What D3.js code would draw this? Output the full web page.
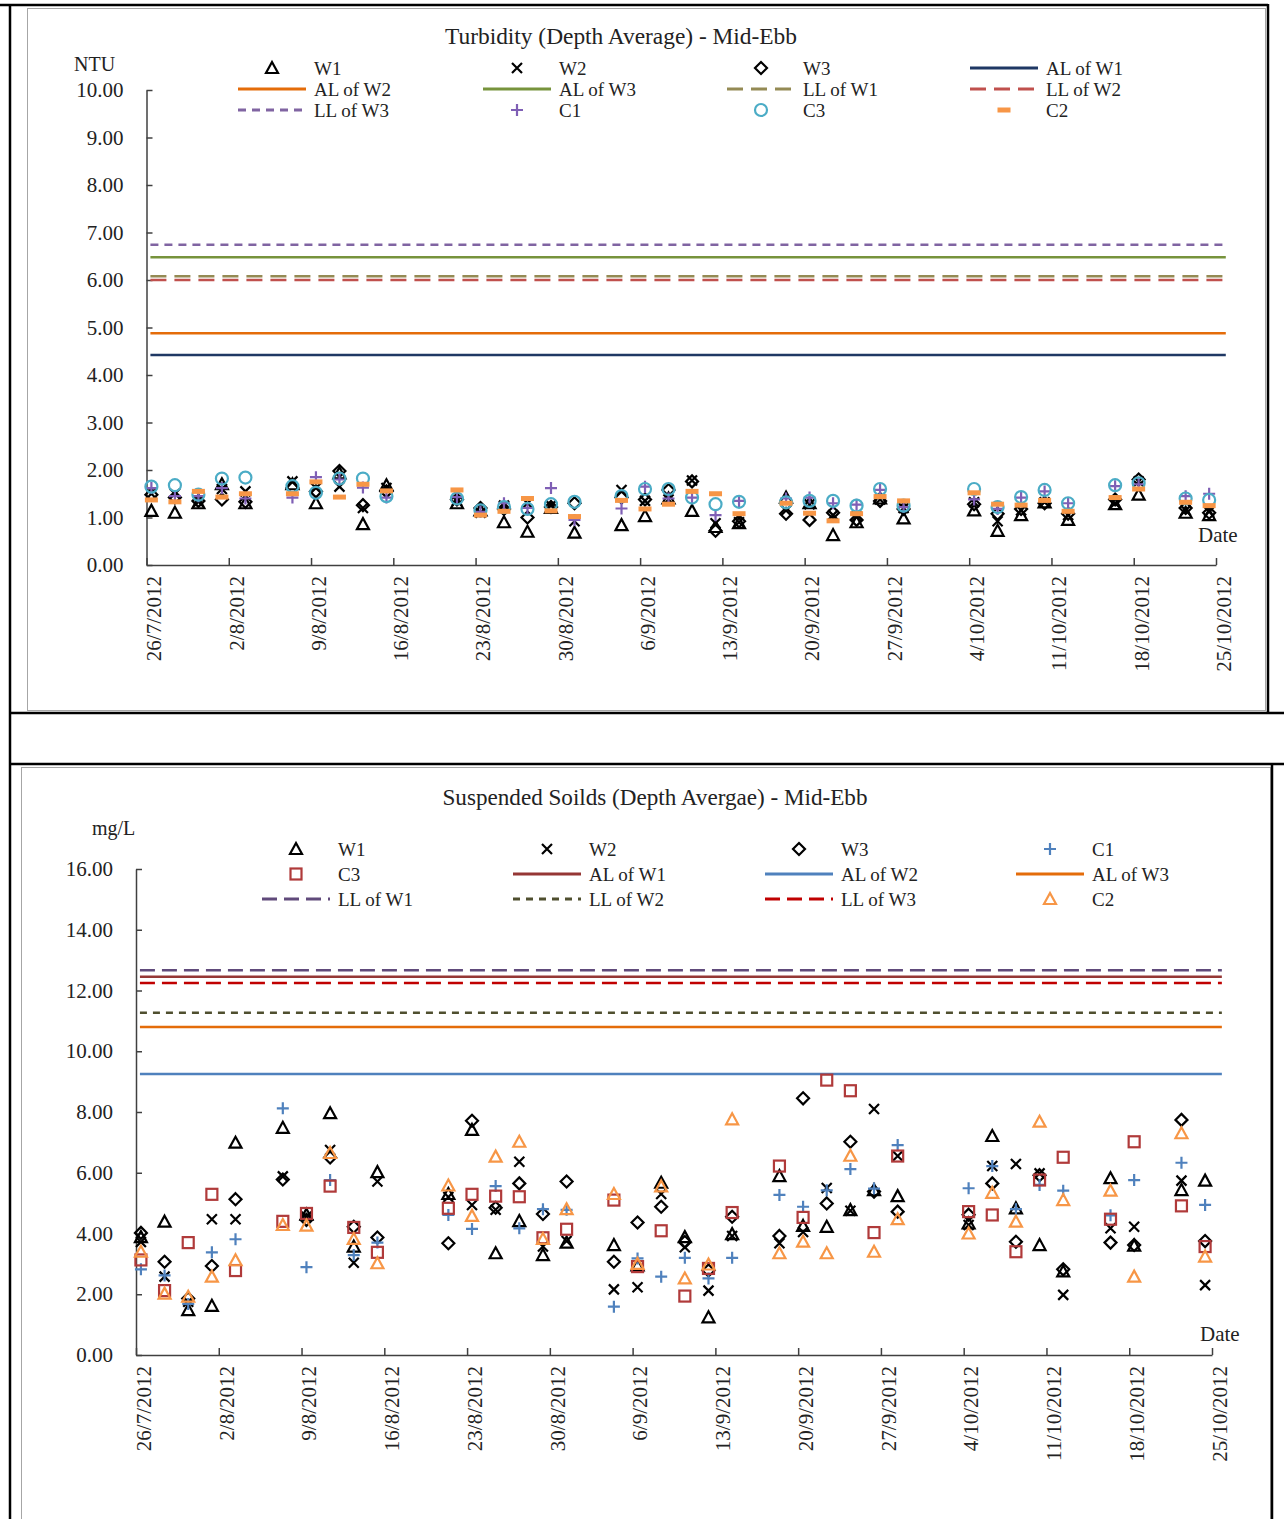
<!DOCTYPE html>
<html><head><meta charset="utf-8">
<script src="https://cdn.jsdelivr.net/npm/d3@7"></script>
<style>
html,body{margin:0;padding:0;background:#fff;}
svg{display:block;}
text{font-family:"Liberation Serif","Times New Roman",serif;fill:#222;}
</style></head>
<body>
<svg id="c" width="1284" height="1519"></svg>
<script>
// ---------------- DATA ----------------
const sampleDates = ["2012-07-26","2012-07-28","2012-07-30","2012-08-01","2012-08-03",
"2012-08-07","2012-08-09","2012-08-11","2012-08-13","2012-08-15",
"2012-08-21","2012-08-23","2012-08-25","2012-08-27","2012-08-29","2012-08-31",
"2012-09-04","2012-09-06","2012-09-08","2012-09-10","2012-09-12","2012-09-14",
"2012-09-18","2012-09-20","2012-09-22","2012-09-24","2012-09-26","2012-09-28",
"2012-10-04","2012-10-06","2012-10-08","2012-10-10","2012-10-12",
"2012-10-16","2012-10-18","2012-10-22","2012-10-24"];
const tickDates = ["2012-07-26","2012-08-02","2012-08-09","2012-08-16","2012-08-23","2012-08-30",
"2012-09-06","2012-09-13","2012-09-20","2012-09-27","2012-10-04","2012-10-11","2012-10-18","2012-10-25"];

// Turbidity (NTU)
const turbW1 = [1.14,1.10,1.30,1.70,1.30, 1.70,1.30,1.93,0.86,1.68, 1.30,1.15,0.90,0.70,1.20,0.68,
 0.84,1.03,1.40,1.14,0.80,0.88, 1.42,1.30,0.63,0.90,1.40,0.98, 1.15,0.72,1.05,1.32,0.95, 1.28,1.48,1.10,1.05];
const turbW2 = [1.50,1.50,1.33,1.60,1.55, 1.76,1.62,1.65,1.20,1.62, 1.35,1.10,1.25,1.30,1.25,0.92,
 1.58,1.35,1.38,1.78,0.88,0.90, 1.15,1.28,1.05,1.02,1.38,1.20, 1.32,0.92,1.15,1.32,1.05, 1.30,1.76,1.15,1.12];
const turbW3 = [1.48,1.42,1.35,1.38,1.33, 1.62,1.55,1.98,1.26,1.55, 1.38,1.20,1.18,1.00,1.22,1.30,
 1.42,1.38,1.58,1.76,0.72,0.92, 1.08,0.95,1.10,0.95,1.35,1.18, 1.28,1.08,1.18,1.30,1.08, 1.38,1.80,1.20,1.10];
const turbC1 = [1.62,1.45,1.45,1.62,1.40, 1.42,1.85,1.80,1.63,1.42, 1.43,1.12,1.30,1.20,1.62,0.95,
 1.19,1.65,1.40,1.42,1.05,1.35, 1.40,1.42,1.30,1.27,1.58,1.22, 1.38,1.18,1.42,1.55,1.30, 1.66,1.70,1.45,1.50];
const turbC3 = [1.65,1.68,1.48,1.82,1.84, 1.66,1.52,1.82,1.82,1.45, 1.40,1.15,1.22,1.18,1.28,1.33,
 1.45,1.60,1.60,1.42,1.28,1.33, 1.32,1.35,1.35,1.25,1.60,1.25, 1.60,1.22,1.43,1.58,1.30, 1.68,1.72,1.40,1.37];
const turbC2 = [1.37,1.33,1.55,1.43,1.50, 1.50,1.75,1.43,1.70,1.56, 1.58,1.05,1.13,1.40,1.14,1.02,
 1.36,1.18,1.28,1.55,1.50,1.08, 1.30,1.09,0.93,1.08,1.44,1.35, 1.52,1.28,1.26,1.36,1.13, 1.42,1.60,1.32,1.25];
const turbLimits = [
  {name:"AL of W1", value:4.42, color:"#1f3864", dash:null},
  {name:"AL of W2", value:4.88, color:"#e46c0a", dash:null},
  {name:"AL of W3", value:6.48, color:"#77933c", dash:null},
  {name:"LL of W1", value:6.08, color:"#948a54", dash:"16,8"},
  {name:"LL of W2", value:6.00, color:"#c0504d", dash:"16,8"},
  {name:"LL of W3", value:6.74, color:"#8064a2", dash:"8,6"}
];
const turbYTicks = [0,1,2,3,4,5,6,7,8,9,10];

// Suspended Solids (mg/L)
const ssW1 = [3.88,4.39,1.48,1.62,6.99, 7.48,4.62,7.96,3.57,6.02, 5.30,7.41,3.35,4.41,3.29,3.70,
 3.62,2.95,5.67,3.88,1.24,3.98, 5.89,4.25,4.22,4.77,5.43,5.23, 4.33,7.21,4.83,3.62,2.75, 5.82,3.60,5.43,5.74];
const ssW2 = [3.72,2.58,1.75,4.47,4.47, 5.88,4.55,6.75,3.04,5.71, 5.20,4.94,4.78,6.36,3.57,3.75,
 2.16,2.23,5.30,3.55,2.12,3.92, 3.68,4.05,5.50,4.75,8.10,6.55, 4.28,6.22,6.29,5.98,1.98, 4.17,4.22,5.74,2.30];
const ssW3 = [4.02,3.07,1.86,2.93,5.13, 5.78,4.45,6.50,4.22,3.87, 3.68,7.71,4.85,5.65,4.64,5.71,
 3.07,4.36,4.88,3.72,2.78,4.55, 3.92,8.45,4.99,7.02,5.38,4.72, 4.62,5.65,3.73,5.92,2.82, 3.70,3.62,7.74,3.75];
const ssC1 = [2.82,2.62,1.68,3.38,3.81, 8.12,2.89,5.76,3.29,3.70, 4.61,4.15,5.56,4.17,4.80,4.78,
 1.59,3.18,2.58,3.20,2.52,3.20, 5.27,4.88,5.42,6.12,5.48,6.91, 5.49,6.22,4.80,5.60,5.41, 4.60,5.76,6.33,4.94];
const ssC3 = [3.13,2.12,3.70,5.29,2.78, 4.40,4.66,5.56,4.20,3.38, 4.83,5.29,5.23,5.21,3.86,4.14,
 5.10,2.91,4.09,1.94,2.85,4.69, 6.22,4.53,9.05,8.70,4.03,6.55, 4.72,4.61,3.40,5.76,6.51, 4.47,7.02,4.91,3.57];
const ssC2 = [3.40,2.02,1.92,2.58,3.12, 4.28,4.26,6.65,3.82,3.02, 5.58,4.58,6.53,7.02,3.82,4.80,
 5.30,3.00,5.55,2.52,2.98,7.76, 3.35,3.73,3.35,6.56,3.40,4.47, 4.00,5.34,4.39,7.68,5.10, 5.41,2.58,7.30,3.24];
const ssLimits = [
  {name:"AL of W1", value:12.45, color:"#953735", dash:null},
  {name:"AL of W2", value:9.25, color:"#4f81bd", dash:null},
  {name:"AL of W3", value:10.80, color:"#e46c0a", dash:null},
  {name:"LL of W1", value:12.67, color:"#604a7b", dash:"15,7"},
  {name:"LL of W2", value:11.27, color:"#4f4f2f", dash:"7,6"},
  {name:"LL of W3", value:12.25, color:"#c00000", dash:"15,7"}
];
const ssYTicks = [0,2,4,6,8,10,12,14,16];

const limitStart = "2012-07-26T08:00", limitEnd = "2012-10-25T20:00";

// ---------------- DRAW ----------------
const svg = d3.select("#c");
const parse = s => new Date(s.length>10 ? s : s+"T00:00");
const sampleT = sampleDates.map(s => parse(s+"T10:00"));

// frame
const frame = svg.append("g");
frame.append("rect").attr("x",27.5).attr("y",8.5).attr("width",1238).attr("height",702).attr("fill","none").attr("stroke","#a6a6a6").attr("stroke-width",1);
frame.append("rect").attr("x",21.5).attr("y",767.5).attr("width",1249).attr("height",760).attr("fill","none").attr("stroke","#a6a6a6").attr("stroke-width",1);
const thick = [[0,5,1268,5],[10,4,10,1519],[1268,4,1268,713],[10,713,1284,713],[10,764,1284,764],[1272,764,1272,1519]];
thick.forEach(l=>frame.append("line").attr("x1",l[0]).attr("y1",l[1]).attr("x2",l[2]).attr("y2",l[3]).attr("stroke","#000").attr("stroke-width",2.5));

// marker painters
function mk(g, type, x, y, color){
  const sw = 2.2;
  if(type==="tri"){
    g.append("path").attr("d",`M${x},${y-6}L${x+6},${y+5}L${x-6},${y+5}Z`).attr("fill","none").attr("stroke",color).attr("stroke-width",sw).attr("stroke-linejoin","miter");
  } else if(type==="x"){
    g.append("path").attr("d",`M${x-5},${y-5}L${x+5},${y+5}M${x-5},${y+5}L${x+5},${y-5}`).attr("stroke",color).attr("stroke-width",sw);
  } else if(type==="dia"){
    g.append("path").attr("d",`M${x},${y-6}L${x+6},${y}L${x},${y+6}L${x-6},${y}Z`).attr("fill","none").attr("stroke",color).attr("stroke-width",sw);
  } else if(type==="plus"){
    g.append("path").attr("d",`M${x-6},${y}L${x+6},${y}M${x},${y-6}L${x},${y+6}`).attr("stroke",color).attr("stroke-width",sw);
  } else if(type==="circ"){
    g.append("circle").attr("cx",x).attr("cy",y).attr("r",6).attr("fill","none").attr("stroke",color).attr("stroke-width",sw);
  } else if(type==="dash"){
    g.append("rect").attr("x",x-6.5).attr("y",y-2.5).attr("width",13).attr("height",5).attr("fill",color);
  } else if(type==="sq"){
    g.append("rect").attr("x",x-5.5).attr("y",y-5.5).attr("width",11).attr("height",11).attr("fill","none").attr("stroke",color).attr("stroke-width",sw);
  }
}

function chart(cfg){
  const g = svg.append("g");
  const x = d3.scaleTime().domain([parse(tickDates[0]), parse(tickDates[tickDates.length-1])]).range([cfg.x0, cfg.x1]);
  const y = d3.scaleLinear().domain(cfg.ydom).range([cfg.yb, cfg.yt]);

  // y axis
  const ya = g.append("g").attr("transform",`translate(${cfg.x0},0)`)
    .call(d3.axisLeft(y).tickValues(cfg.yticks).tickFormat(d3.format(".2f")).tickSizeInner(-6).tickSizeOuter(0).tickPadding(cfg.ypad));
  ya.selectAll("path,line").attr("stroke","#404040").attr("stroke-width",1.5);
  ya.selectAll("text").attr("font-size",21).attr("font-family","Liberation Serif").attr("fill","#222");
  // x axis
  const xa = g.append("g").attr("transform",`translate(0,${cfg.yb})`)
    .call(d3.axisBottom(x).tickValues(tickDates.map(parse)).tickFormat(d3.timeFormat("%-d/%-m/%Y")).tickSizeInner(-7).tickSizeOuter(0));
  xa.selectAll("path,line").attr("stroke","#404040").attr("stroke-width",1.5);
  xa.selectAll("text").attr("font-size",21).attr("font-family","Liberation Serif").attr("fill","#222")
    .attr("transform","rotate(-90)").attr("text-anchor","end").attr("x",-11).attr("y",0).attr("dy","0.68em");

  // limit lines
  cfg.limits.forEach(l=>{
    g.append("line").attr("x1",x(parse(limitStart))).attr("x2",x(parse(limitEnd)))
      .attr("y1",y(l.value)).attr("y2",y(l.value)).attr("stroke",l.color).attr("stroke-width",2.5)
      .attr("stroke-dasharray",l.dash);
  });
  // series
  cfg.series.forEach(s=>{
    const sg = g.append("g");
    s.data.forEach((v,i)=> mk(sg, s.type, x(sampleT[i]), y(v), s.color));
  });

  // titles
  g.append("text").attr("x",cfg.titleX).attr("y",cfg.titleY).attr("text-anchor","middle").attr("font-size",24)
    .attr("textLength",cfg.titleW).attr("lengthAdjust","spacingAndGlyphs").text(cfg.title);
  g.append("text").attr("x",cfg.unitX).attr("y",cfg.unitY).attr("font-size",20).text(cfg.unit);
  g.append("text").attr("x",cfg.dateX).attr("y",cfg.dateY).attr("font-size",21).text("Date");

  // legend
  cfg.legend.forEach((it,i)=>{
    const col = i % 4, row = Math.floor(i/4);
    const lx = cfg.legCols[col], ly = cfg.legY0 + row*cfg.legDy;
    if(it.line){
      g.append("line").attr("x1",lx).attr("x2",lx+68).attr("y1",ly).attr("y2",ly)
        .attr("stroke",it.color).attr("stroke-width",3).attr("stroke-dasharray",it.dash);
    } else {
      mk(g, it.type, lx+34, ly, it.color);
    }
    g.append("text").attr("x",lx+76).attr("y",ly).attr("dy","0.35em").attr("font-size",19).text(it.name);
  });
}

const lim = (arr,n)=>arr.find(d=>d.name===n);
chart({
  x0:146.5, x1:1216, yb:565, yt:90, ydom:[0,10], yticks:turbYTicks, ypad:23,
  limits:turbLimits,
  series:[
    {data:turbW1,type:"tri",color:"#000"},
    {data:turbW2,type:"x",color:"#000"},
    {data:turbW3,type:"dia",color:"#000"},
    {data:turbC1,type:"plus",color:"#7f5fb5"},
    {data:turbC3,type:"circ",color:"#4bacc6"},
    {data:turbC2,type:"dash",color:"#f79646"}
  ],
  title:"Turbidity (Depth Average) - Mid-Ebb", titleX:621, titleY:44, titleW:352,
  unit:"NTU", unitX:74, unitY:71, dateX:1198, dateY:542,
  legCols:[238,483,727,970], legY0:68, legDy:21,
  legend:[
    {name:"W1",type:"tri",color:"#000"},{name:"W2",type:"x",color:"#000"},{name:"W3",type:"dia",color:"#000"},
    Object.assign({line:true},lim(turbLimits,"AL of W1")),
    Object.assign({line:true},lim(turbLimits,"AL of W2")),Object.assign({line:true},lim(turbLimits,"AL of W3")),
    Object.assign({line:true},lim(turbLimits,"LL of W1")),Object.assign({line:true},lim(turbLimits,"LL of W2")),
    Object.assign({line:true},lim(turbLimits,"LL of W3")),
    {name:"C1",type:"plus",color:"#7f5fb5"},{name:"C3",type:"circ",color:"#4bacc6"},{name:"C2",type:"dash",color:"#f79646"}
  ]
});
chart({
  x0:136, x1:1212, yb:1355, yt:869, ydom:[0,16], yticks:ssYTicks, ypad:23,
  limits:ssLimits,
  series:[
    {data:ssW1,type:"tri",color:"#000"},
    {data:ssW2,type:"x",color:"#000"},
    {data:ssW3,type:"dia",color:"#000"},
    {data:ssC1,type:"plus",color:"#4f81bd"},
    {data:ssC3,type:"sq",color:"#b03a3a"},
    {data:ssC2,type:"tri",color:"#f79646"}
  ],
  title:"Suspended Soilds (Depth Avergae) - Mid-Ebb", titleX:655, titleY:805, titleW:425,
  unit:"mg/L", unitX:92, unitY:835, dateX:1200, dateY:1341,
  legCols:[262,513,765,1016], legY0:849, legDy:25,
  legend:[
    {name:"W1",type:"tri",color:"#000"},{name:"W2",type:"x",color:"#000"},{name:"W3",type:"dia",color:"#000"},
    {name:"C1",type:"plus",color:"#4f81bd"},{name:"C3",type:"sq",color:"#b03a3a"},
    Object.assign({line:true},lim(ssLimits,"AL of W1")),Object.assign({line:true},lim(ssLimits,"AL of W2")),
    Object.assign({line:true},lim(ssLimits,"AL of W3")),Object.assign({line:true},lim(ssLimits,"LL of W1")),
    Object.assign({line:true},lim(ssLimits,"LL of W2")),Object.assign({line:true},lim(ssLimits,"LL of W3")),
    {name:"C2",type:"tri",color:"#f79646"}
  ]
});
</script>
</body></html>
